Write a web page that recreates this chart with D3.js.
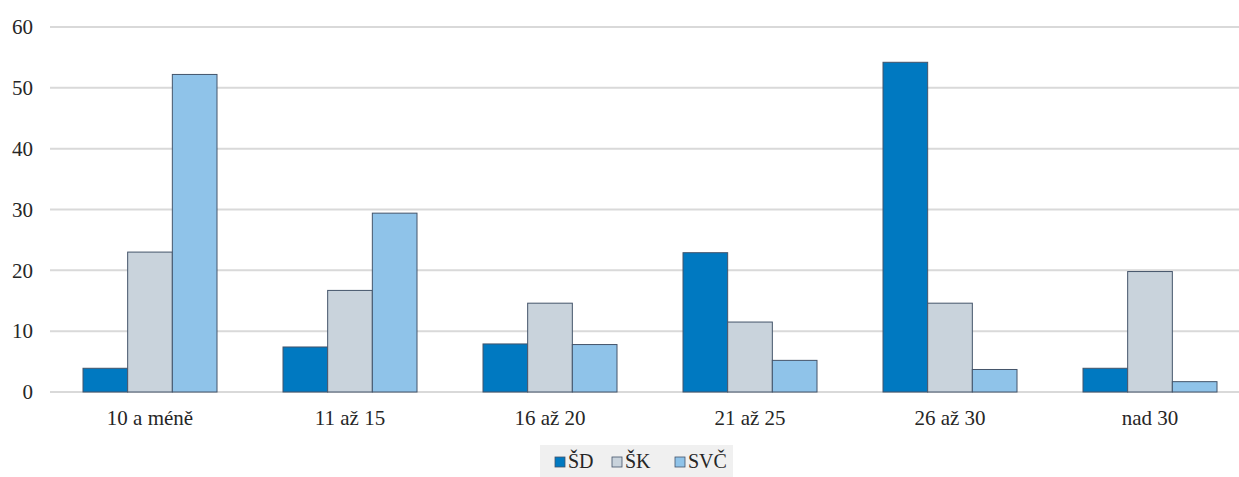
<!DOCTYPE html>
<html>
<head>
<meta charset="utf-8">
<script src="https://cdn.jsdelivr.net/npm/d3@7"></script>
<style>
  body { margin: 0; background: #fff; }
</style>
</head>
<body>
<div id="chart"></div>
<script>
// data
var categories = ["10 a méně", "11 až 15", "16 až 20", "21 až 25", "26 až 30", "nad 30"];
var seriesNames = ["ŠD", "ŠK", "SVČ"];
var sdValues  = [3.9, 7.4, 7.9, 22.9, 54.2, 3.9];
var skValues  = [23.0, 16.7, 14.6, 11.5, 14.6, 19.8];
var svcValues = [52.2, 29.4, 7.8, 5.2, 3.7, 1.7];
var yTicks = [0, 10, 20, 30, 40, 50, 60];
var colors = ["#0079c1", "#c9d3dc", "#8fc3e9"];

var W = 1239, H = 477;
var margin = {top: 27, left: 50, bottom: 85};
var plotRight = 1250;
var y0 = H - margin.bottom;

var svg = d3.select("#chart")
  .append("svg")
    .attr("width", W)
    .attr("height", H)
    .attr("font-family", "Liberation Serif");

var rows = categories.map(function(c, i) {
  return {cat: c, values: [sdValues[i], skValues[i], svcValues[i]]};
});

var x = d3.scaleBand()
  .domain(categories)
  .range([margin.left, plotRight])
  .paddingInner(0.33)
  .paddingOuter(0.165);

var xs = d3.scaleBand()
  .domain(seriesNames)
  .range([0, x.bandwidth()]);

var y = d3.scaleLinear()
  .domain([0, 60])
  .range([y0, margin.top]);

// gridlines
svg.append("g")
  .selectAll("line")
  .data(yTicks)
  .enter()
  .append("line")
    .attr("x1", margin.left)
    .attr("x2", W)
    .attr("y1", function(d) { return y(d); })
    .attr("y2", function(d) { return y(d); })
    .attr("stroke", "#d9d9d9")
    .attr("stroke-width", 2);

// y axis labels
var yAxis = svg.append("g")
  .attr("transform", "translate(" + (margin.left - 17) + ",0)")
  .call(d3.axisLeft(y).tickValues(yTicks).tickSize(0).tickPadding(0));
yAxis.attr("font-family", "Liberation Serif").attr("font-size", 21);
yAxis.select(".domain").remove();
yAxis.selectAll("text")
  .attr("font-family", "Liberation Serif")
  .attr("fill", "#262626");

// bars
var groups = svg.selectAll("g.grp")
  .data(rows)
  .enter()
  .append("g")
    .attr("class", "grp")
    .attr("transform", function(d) { return "translate(" + x(d.cat) + ",0)"; });

groups.selectAll("rect")
  .data(function(d) { return d.values.map(function(v, i) { return {name: seriesNames[i], v: v, i: i}; }); })
  .enter()
  .append("rect")
    .attr("x", function(d) { return xs(d.name); })
    .attr("y", function(d) { return y(d.v); })
    .attr("width", xs.bandwidth())
    .attr("height", function(d) { return y0 - y(d.v); })
    .attr("fill", function(d) { return colors[d.i]; })
    .attr("stroke", "#44546a")
    .attr("stroke-width", 1);

// x axis labels
var xAxis = svg.append("g")
  .attr("transform", "translate(0," + y0 + ")")
  .call(d3.axisBottom(x).tickSize(0).tickPadding(18));
xAxis.attr("font-family", "Liberation Serif").attr("font-size", 21);
xAxis.select(".domain").remove();
xAxis.selectAll("text")
  .attr("font-family", "Liberation Serif")
  .attr("fill", "#262626");

// legend
var legend = svg.append("g");
legend.append("rect")
  .attr("x", 540)
  .attr("y", 445)
  .attr("width", 193)
  .attr("height", 32)
  .attr("fill", "#f0f0f0");

var legendX = [555, 612, 675];
seriesNames.forEach(function(name, i) {
  legend.append("rect")
    .attr("x", legendX[i])
    .attr("y", 457)
    .attr("width", 10)
    .attr("height", 10)
    .attr("fill", colors[i])
    .attr("stroke", "#44546a")
    .attr("stroke-width", 0.8);
  legend.append("text")
    .attr("x", legendX[i] + 13)
    .attr("y", 468)
    .attr("font-family", "Liberation Serif")
    .attr("font-size", 20)
    .attr("fill", "#262626")
    .text(name);
});
</script>
</body>
</html>
